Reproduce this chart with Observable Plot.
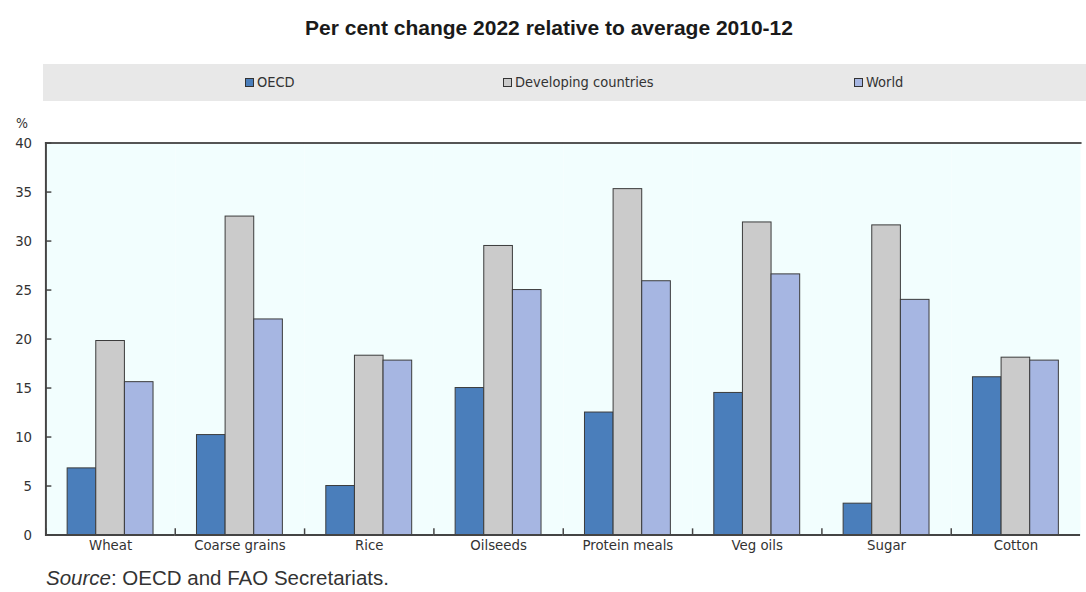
<!DOCTYPE html>
<html>
<head>
<meta charset="utf-8">
<script src="https://cdn.jsdelivr.net/npm/d3@7"></script>
<script src="https://cdn.jsdelivr.net/npm/@observablehq/plot@0.6"></script>
<style>
  html, body { margin: 0; padding: 0; overflow: hidden; background: #ffffff; width: 1086px; height: 592px; }
  body { position: relative; }
  #title { position: absolute; left: 0; top: 16px; width: 1098px; text-align: center;
           font: bold 21px 'Liberation Sans', Arial, sans-serif; color: #1a1a1a; white-space: nowrap; }
  #legend { position: absolute; left: 43px; top: 64px; width: 1060px; height: 37px; background: #e8e8e8; }
  .item { position: absolute; top: 9px; font: 14.5px 'Liberation Sans Narrow', 'Arial Narrow', 'DejaVu Sans Condensed', sans-serif;
          color: #333; white-space: nowrap; line-height: 18px; }
  .sw { display: inline-block; width: 7px; height: 7px; border: 1px solid #333; margin-right: 3px; vertical-align: 0px; }
  #unit { position: absolute; left: 16px; top: 115px; font: 14px 'Liberation Sans Narrow', 'Arial Narrow', 'DejaVu Sans Condensed', sans-serif; color: #333; }
  #chart { position: absolute; left: 0; top: 110px; }
  #source { position: absolute; left: 46px; top: 566px; font: 20.5px 'Liberation Sans', Arial, sans-serif; color: #333; white-space: nowrap; }
</style>
</head>
<body>
<div id="title">Per cent change 2022 relative to average 2010-12</div>
<div id="legend"></div>
<div id="unit">%</div>
<div id="chart"></div>
<div id="source"><i>Source</i>: OECD and FAO Secretariats.</div>
<script>
// ---- Data ----
const categories = ["Wheat", "Coarse grains", "Rice", "Oilseeds", "Protein meals", "Veg oils", "Sugar", "Cotton"];
const series = ["OECD", "Developing countries", "World"];
const oecd       = [6.8, 10.2, 5.0, 15.0, 12.5, 14.5, 3.2, 16.1];
const developing = [19.8, 32.5, 18.3, 29.5, 35.3, 31.9, 31.6, 18.1];
const world      = [15.6, 22.0, 17.8, 25.0, 25.9, 26.6, 24.0, 17.8];
const yTicks = [0, 5, 10, 15, 20, 25, 30, 35, 40];
const colors = ["#4a7ebb", "#cbcbcb", "#a6b6e2"];
const legendX = [245, 503, 854];

// ---- Build table ----
const valuesBySeries = [oecd, developing, world];
const data = categories.flatMap((c, i) =>
  series.map((s, j) => ({category: c, series: s, value: valuesBySeries[j][i]})));

// ---- Legend ----
const legend = document.getElementById("legend");
series.forEach((s, j) => {
  const el = document.createElement("div");
  el.className = "item";
  el.style.left = (legendX[j] - 43) + "px";
  el.innerHTML = `<span class="sw" style="background:${colors[j]}"></span>${s}`;
  legend.appendChild(el);
});

// ---- Chart ----
const narrow = "'Liberation Sans Narrow', 'Arial Narrow', 'DejaVu Sans Condensed', sans-serif";
const plot = Plot.plot({
  width: 1100,
  height: 455,
  marginTop: 33,
  marginBottom: 25,
  marginLeft: 43,
  marginRight: 4,
  style: {fontFamily: narrow, fontSize: "15px", color: "#333", background: "transparent", overflow: "visible"},
  fx: {domain: categories, padding: 0, label: null},
  x: {domain: series, paddingInner: 0, paddingOuter: 0.73, axis: null},
  y: {domain: [0, 40], label: null},
  color: {domain: series, range: colors},
  marks: [
    Plot.frame({fill: "#f2fefe", stroke: null}),
    Plot.frame({anchor: "top", stroke: "#555", strokeWidth: 2}),
    Plot.frame({anchor: "left", stroke: "#444", strokeWidth: 1.5, insetTop: 391}),
    Plot.frame({anchor: "left", facetAnchor: "left", stroke: "#444", strokeWidth: 2}),
    Plot.barY(data, {fx: "category", x: "series", y: "value", fill: "series", stroke: "#3a3a3a", strokeWidth: 1}),
    Plot.ruleY([0], {stroke: "#444", strokeWidth: 2}),
    Plot.axisY(yTicks, {tickSize: 6, dx: 6, fill: "none", stroke: "#444", strokeWidth: 1.5, label: null}),
    Plot.axisY(yTicks, {tickSize: 0, tickPadding: 14, label: null}),
    Plot.axisFx({anchor: "bottom", tickSize: 0, tickPadding: 5, label: null})
  ]
});
document.getElementById("chart").appendChild(plot);
</script>
</body>
</html>
